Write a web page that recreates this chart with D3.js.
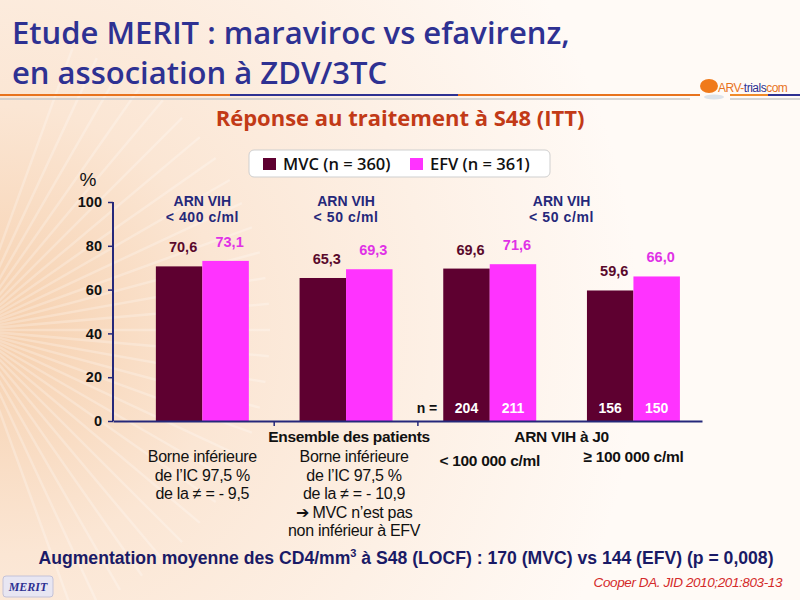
<!DOCTYPE html>
<html>
<head>
<meta charset="utf-8">
<script src="https://cdn.jsdelivr.net/npm/d3@7"></script>
<style>
  body { margin: 0; }
  svg { display: block; }
</style>
</head>
<body>
<svg></svg>
<script>
// values
const categories = ['tous400', 'tous50', 'lt100k', 'ge100k'];
const series = ['MVC', 'EFV'];
const mvcValues = [70.6, 65.3, 69.6, 59.6];
const efvValues = [73.1, 69.3, 71.6, 66.0];
const mvcN = [null, null, 204, 156];
const efvN = [null, null, 211, 150];
const yTicks = [0, 20, 40, 60, 80, 100];
const legendLabels = ['MVC (n = 360)', 'EFV (n = 361)'];
const headerLines = [['ARN VIH', '< 400 c/ml'], ['ARN VIH', '< 50 c/ml'], ['ARN VIH', '< 50 c/ml']];
const headerSpans = [[0], [1], [2, 3]];
const borneLines = [
  ['Borne inférieure', 'de l\u2019IC 97,5 %', 'de la \u2260 = - 9,5'],
  ['Borne inférieure', 'de l\u2019IC 97,5 %', 'de la \u2260 =  - 10,9', '\u2794 MVC n\u2019est pas', 'non inférieur à EFV']
];

const width = 800;
const height = 600;

const colors = { MVC: '#5e0030', EFV: '#ff33ff' };
const labelColors = { MVC: '#5a0a2c', EFV: '#e032e6' };
const navy = '#25287a';
const arial = '"Liberation Sans", Arial, sans-serif';
const calibri = '"Open Sans", Lato, sans-serif';

const svg = d3.select('svg')
  .attr('width', width)
  .attr('height', height);

const defs = svg.append('defs');

const bg = defs.append('radialGradient')
  .attr('id', 'bg')
  .attr('gradientUnits', 'userSpaceOnUse')
  .attr('cx', 0).attr('cy', 330).attr('r', 640);
bg.append('stop').attr('offset', '0%').attr('stop-color', '#f6d0ae');
bg.append('stop').attr('offset', '35%').attr('stop-color', '#fbe6d4');
bg.append('stop').attr('offset', '100%').attr('stop-color', '#fffaf6');

svg.append('rect')
  .attr('width', width)
  .attr('height', height)
  .attr('fill', 'url(#bg)');

// soft rays on the left side of the slide
const rays = d3.range(-70, 75, 5);
svg.append('g')
  .selectAll('line')
  .data(rays)
  .enter()
  .append('line')
  .attr('x1', -30)
  .attr('y1', 330)
  .attr('x2', d => -30 + 300 * Math.cos(d * Math.PI / 180))
  .attr('y2', d => 330 + 300 * Math.sin(d * Math.PI / 180))
  .attr('stroke', '#ffffff')
  .attr('stroke-opacity', 0.25)
  .attr('stroke-width', 2.5);

// title
const title = svg.append('g')
  .attr('fill', '#2e3192')
  .attr('font-family', calibri)
  .attr('font-weight', 600)
  .attr('font-size', 31);
title.append('text').attr('x', 12).attr('y', 44).text('Etude MERIT : maraviroc vs efavirenz,');
title.append('text').attr('x', 12).attr('y', 84).text('en association à ZDV/3TC');

// rule under the title
const ruleSegments = [
  { x1: 0, x2: 230, c: '#e8731e' },
  { x1: 230, x2: 458, c: '#2e3192' },
  { x1: 458, x2: 700, c: '#e8731e' },
  { x1: 730, x2: 768, c: '#f08a2a' },
  { x1: 768, x2: 800, c: '#2e3192' }
];
svg.append('g')
  .selectAll('line')
  .data(ruleSegments)
  .enter()
  .append('line')
  .attr('x1', d => d.x1)
  .attr('x2', d => d.x2)
  .attr('y1', 95)
  .attr('y2', 95)
  .attr('stroke', d => d.c)
  .attr('stroke-width', 2);
svg.append('line')
  .attr('x1', 0).attr('x2', 690).attr('y1', 99).attr('y2', 99)
  .attr('stroke', '#c8c8c8').attr('stroke-width', 1.5);
svg.append('line')
  .attr('x1', 730).attr('x2', 800).attr('y1', 99).attr('y2', 99)
  .attr('stroke', '#c8c8c8').attr('stroke-width', 1.5);

// logo
svg.append('ellipse')
  .attr('cx', 709).attr('cy', 86).attr('rx', 9).attr('ry', 7)
  .attr('fill', '#f07a1a');
svg.append('ellipse')
  .attr('cx', 714).attr('cy', 97).attr('rx', 10).attr('ry', 2.5)
  .attr('fill', '#dde3ea');
svg.append('text')
  .attr('x', 718).attr('y', 92)
  .attr('font-family', arial)
  .attr('font-size', 12)
  .attr('letter-spacing', -0.5)
  .html('<tspan fill="#e8731e">ARV-</tspan><tspan fill="#2e3192">trials</tspan><tspan fill="#e8731e">com</tspan>');

// subtitle
svg.append('text')
  .attr('x', 400).attr('y', 126)
  .attr('text-anchor', 'middle')
  .attr('font-family', calibri)
  .attr('font-weight', 'bold')
  .attr('font-size', 22)
  .attr('fill', '#c23a17')
  .text('Réponse au traitement à S48 (ITT)');

// legend
const legend = svg.append('g');
legend.append('rect')
  .attr('x', 249).attr('y', 150).attr('width', 301).attr('height', 27)
  .attr('rx', 5)
  .attr('fill', '#ffffff')
  .attr('stroke', '#cfcfcf');
const legendItems = legend.selectAll('g.item')
  .data(series)
  .enter()
  .append('g')
  .attr('class', 'item')
  .attr('transform', (d, i) => 'translate(' + (263 + i * 147) + ', 158)');
legendItems.append('rect')
  .attr('width', 13).attr('height', 12)
  .attr('fill', d => colors[d]);
legendItems.append('text')
  .attr('x', 20).attr('y', 12)
  .attr('font-family', calibri)
  .attr('font-weight', 600)
  .attr('font-size', 16.5)
  .attr('fill', '#111')
  .text((d, i) => legendLabels[i]);

// scales
const xScale = d3.scaleBand()
  .domain(categories)
  .range([113, 702])
  .paddingInner(0.353)
  .paddingOuter(0.226)
  .align(0.66);

const xSub = d3.scaleBand()
  .domain(series)
  .range([0, xScale.bandwidth()]);

const yScale = d3.scaleLinear()
  .domain([0, 100])
  .range([421, 202]);

const rows = categories.map((c, i) => ({
  cat: c,
  values: [
    { s: 'MVC', v: mvcValues[i], n: mvcN[i] },
    { s: 'EFV', v: efvValues[i], n: efvN[i] }
  ]
}));

// bars
const groups = svg.append('g')
  .selectAll('g')
  .data(rows)
  .enter()
  .append('g')
  .attr('transform', d => 'translate(' + xScale(d.cat) + ', 0)');

groups.selectAll('rect')
  .data(d => d.values)
  .enter()
  .append('rect')
  .attr('x', d => xSub(d.s))
  .attr('y', d => yScale(d.v))
  .attr('width', xSub.bandwidth())
  .attr('height', d => yScale(0) - yScale(d.v))
  .attr('fill', d => colors[d.s]);

groups.selectAll('text.val')
  .data(d => d.values)
  .enter()
  .append('text')
  .attr('class', 'val')
  .attr('x', d => xSub(d.s) + xSub.bandwidth() / 2 + 4)
  .attr('y', d => yScale(d.v) - 14)
  .attr('text-anchor', 'middle')
  .attr('font-family', arial)
  .attr('font-weight', 'bold')
  .attr('font-size', 14.5)
  .attr('fill', d => labelColors[d.s])
  .text(d => d3.format('.1f')(d.v).replace('.', ','));

groups.selectAll('text.n')
  .data(d => d.values.filter(v => v.n !== null))
  .enter()
  .append('text')
  .attr('class', 'n')
  .attr('x', d => xSub(d.s) + xSub.bandwidth() / 2)
  .attr('y', yScale(0) - 8)
  .attr('text-anchor', 'middle')
  .attr('font-family', arial)
  .attr('font-weight', 'bold')
  .attr('font-size', 14)
  .attr('fill', '#ffffff')
  .text(d => d.n);

svg.append('text')
  .attr('x', xScale(categories[2]) - 6)
  .attr('y', yScale(0) - 8)
  .attr('text-anchor', 'end')
  .attr('font-family', arial)
  .attr('font-weight', 'bold')
  .attr('font-size', 14)
  .attr('fill', '#111')
  .text('n =');

// axes
const yAxis = d3.axisLeft(yScale)
  .tickValues(yTicks)
  .tickSize(5)
  .tickPadding(6)
  .tickFormat(d3.format('d'));

const yG = svg.append('g')
  .attr('transform', 'translate(113, 0)')
  .call(yAxis);
yG.select('.domain').remove();
yG.selectAll('line').attr('stroke', navy).attr('stroke-width', 1.5);
yG.selectAll('text')
  .attr('font-family', arial)
  .attr('font-weight', 'bold')
  .attr('font-size', 14.5)
  .attr('fill', '#111');

svg.append('line')
  .attr('x1', 113).attr('x2', 113)
  .attr('y1', yScale(100)).attr('y2', yScale(0))
  .attr('stroke', navy).attr('stroke-width', 2);

const boundaries = [1, 2].map(i => xScale(categories[i]) - xScale.step() * xScale.paddingInner() / 2);
const xAxis = d3.axisBottom(xScale.copy().range([113, 702]))
  .tickValues([])
  .tickSizeOuter(0);
const xG = svg.append('g')
  .attr('transform', 'translate(0, ' + yScale(0) + ')')
  .call(xAxis);
xG.select('.domain').attr('stroke', navy).attr('stroke-width', 2);
xG.selectAll('line.sep')
  .data(boundaries)
  .enter()
  .append('line')
  .attr('class', 'sep')
  .attr('x1', d => d).attr('x2', d => d)
  .attr('y1', 0).attr('y2', 5)
  .attr('stroke', navy).attr('stroke-width', 1.5);

svg.append('text')
  .attr('x', 88).attr('y', 186)
  .attr('text-anchor', 'middle')
  .attr('font-family', arial)
  .attr('font-size', 19)
  .attr('fill', '#111')
  .text('%');

// group headers above the bars
const headers = svg.append('g')
  .selectAll('text')
  .data(headerLines)
  .enter()
  .append('text')
  .attr('x', (d, i) => d3.mean(headerSpans[i], k => xScale(categories[k]) + xScale.bandwidth() / 2))
  .attr('y', 206)
  .attr('text-anchor', 'middle')
  .attr('font-family', arial)
  .attr('font-weight', 'bold')
  .attr('font-size', 14)
  .attr('fill', navy);
headers.selectAll('tspan')
  .data(d => d)
  .enter()
  .append('tspan')
  .attr('x', function () { return d3.select(this.parentNode).attr('x'); })
  .attr('dy', (d, i) => i === 0 ? 0 : 16)
  .attr('letter-spacing', (d, i) => i === 0 ? 0 : 0.6)
  .text(d => d);

// category captions under the axis
const center = c => xScale(c) + xScale.bandwidth() / 2;
const caption = (x, y, txt, size, weight) => svg.append('text')
  .attr('x', x).attr('y', y)
  .attr('text-anchor', 'middle')
  .attr('font-family', arial)
  .attr('font-weight', weight)
  .attr('font-size', size)
  .attr('letter-spacing', -0.3)
  .attr('fill', '#111')
  .text(txt);

caption(d3.mean(boundaries) + 3, 442, 'Ensemble des patients', 15.5, 'bold');
caption((center(categories[2]) + center(categories[3])) / 2, 442, 'ARN VIH à J0', 15.5, 'bold');
caption(center(categories[2]), 466, '< 100 000 c/ml', 15.5, 'bold');
caption(center(categories[3]), 462, '\u2265 100 000 c/ml', 15.5, 'bold');

borneLines.forEach((lines, i) => {
  lines.forEach((line, j) => {
    caption(center(categories[i]) + (i === 1 ? 8 : 0), 462 + j * 18.5, line, 16, 'normal');
  });
});

// footnotes
svg.append('text')
  .attr('x', 406).attr('y', 564)
  .attr('text-anchor', 'middle')
  .attr('font-family', arial)
  .attr('font-weight', 'bold')
  .attr('font-size', 17.6)
  .attr('fill', '#1a1a66')
  .html('Augmentation moyenne des CD4/mm<tspan dy="-7" font-size="11">3</tspan><tspan dy="7"> à S48 (LOCF) : 170 (MVC) vs 144 (EFV) (p = 0,008)</tspan>');

svg.append('text')
  .attr('x', 782).attr('y', 587)
  .attr('text-anchor', 'end')
  .attr('font-family', arial)
  .attr('font-style', 'italic')
  .attr('font-size', 13.5)
  .attr('letter-spacing', -0.4)
  .attr('fill', '#d42a2a')
  .text('Cooper DA. JID 2010;201:803-13');

svg.append('rect')
  .attr('x', 3).attr('y', 576).attr('width', 50).attr('height', 21)
  .attr('rx', 3)
  .attr('fill', '#e8e6f2')
  .attr('stroke', '#c4c2d8');
svg.append('text')
  .attr('x', 28).attr('y', 591)
  .attr('text-anchor', 'middle')
  .attr('font-family', '"Liberation Serif", serif')
  .attr('font-style', 'italic')
  .attr('font-weight', 'bold')
  .attr('font-size', 12)
  .attr('fill', '#2e3192')
  .text('MERIT');
</script>
</body>
</html>
